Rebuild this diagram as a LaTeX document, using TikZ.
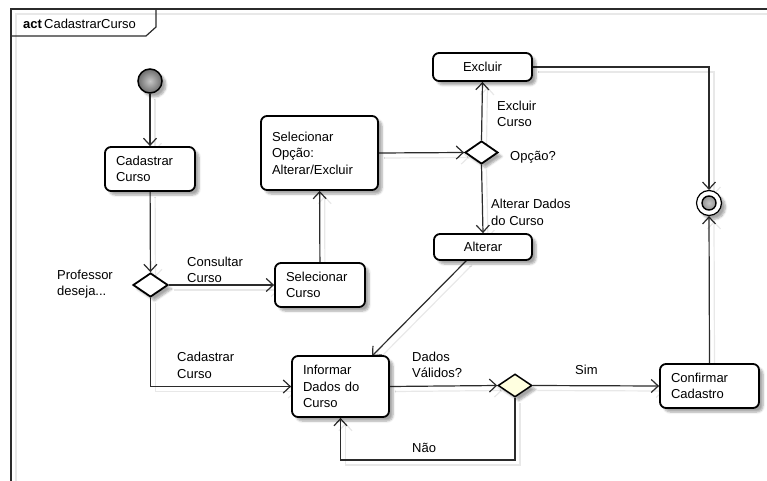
\documentclass[tikz,border=0pt]{standalone}
\usepackage{fontspec}
\setmainfont{Liberation Sans}
\usetikzlibrary{arrows.meta,shapes.geometric,shadows.blur,backgrounds}

\definecolor{decfill}{HTML}{FFFFE0}
\definecolor{linecol}{HTML}{2B2B2B}

\begin{document}
\begin{tikzpicture}[x=1pt,y=-1pt,
  every node/.style={font=\fontsize{13}{16.5}\selectfont},
  softshadow/.style={blur shadow={shadow xshift=4pt,shadow yshift=-4pt,
      shadow blur steps=6,shadow opacity=35}},
  action/.style={rectangle,rounded corners=6pt,draw=black,line width=1.8pt,
      fill=white,align=left,inner xsep=11pt,inner ysep=0pt,softshadow},
  decision/.style={diamond,draw=black,line width=1.8pt,fill=white,
      inner sep=0pt,softshadow},
  lbl/.style={inner sep=0pt,align=left,anchor=west},
  lineshadow/.style={preaction={draw=black!9,line width=1.2pt,
      transform canvas={shift={(5pt,-5pt)}}}},
  flow/.style={draw=linecol,line width=1.2pt,lineshadow,
      -{Straight Barb[length=7pt,width=13pt]}},
]
\useasboundingbox (0,0) rectangle (767,481);

% frame and its name tab
\draw[draw=linecol,line width=1.5pt,lineshadow] (11,490) -- (11,9) -- (775,9);
\draw[draw=linecol,line width=1.2pt] (11,36) -- (146,36) -- (156,27) -- (156,9);
\node[inner sep=0pt,anchor=base west] (title) at (23,29)
  {\textbf{act}\,CadastrarCurso};

% start and end
\node[circle,draw=black,line width=1.5pt,minimum size=24pt,inner sep=0pt,
  inner color=gray!45,outer color=gray!85!black,softshadow] (init) at (150,81) {};
\node[circle,draw=black,line width=1.2pt,minimum size=25pt,inner sep=0pt,
  fill=white,softshadow,
  path picture={\draw[line width=1.4pt,inner color=gray!45,outer color=gray!85!black]
    (path picture bounding box.center) circle (7pt);}] (fin) at (709,203) {};

% actions
\node[action,text width=68pt,minimum height=44pt] (cad) at (150,169) {Cadastrar\\Curso};
\node[action,text width=68pt,minimum height=44pt] (selc) at (320,285) {Selecionar\\Curso};
\node[action,text width=95pt,minimum height=74pt] (selo) at (319.5,153) {Selecionar\\Opção:\\Alterar/Excluir};
\node[action,align=center,minimum width=99pt,minimum height=28pt] (exc) at (482.5,67) {Excluir};
\node[action,align=center,minimum width=98pt,minimum height=26pt] (alt) at (483,247) {Alterar};
\node[action,text width=75pt,minimum height=61pt] (inf) at (340.5,386.5) {Informar\\Dados do\\Curso};
\node[action,text width=77pt,minimum height=44pt] (conf) at (709.5,386) {Confirmar\\Cadastro};

% decisions
\node[decision,minimum width=35pt,minimum height=24pt] (d1) at (150.5,285) {};
\node[decision,minimum width=33pt,minimum height=23pt] (d2) at (481.5,152.5) {};
\node[decision,fill=decfill,line width=1.5pt,minimum width=34pt,minimum height=23pt] (d3) at (515,385.5) {};

% guard and decision texts
\node[lbl] (tprof) at (57,284) {Professor\\deseja...};
\node[lbl] (tcons) at (187,270) {Consultar\\Curso};
\node[lbl] (tcad) at (177,365.5) {Cadastrar\\Curso};
\node[lbl] (texc) at (497,114) {Excluir\\Curso};
\node[lbl] (topc) at (510,157) {Opção?};
\node[lbl] (talt) at (491,212.5) {Alterar Dados\\do Curso};
\node[lbl] (tval) at (412,365) {Dados\\Válidos?};
\node[lbl] (tsim) at (575,370) {Sim};
\node[lbl] (tnao) at (412,448) {Não};

\coordinate (altout) at (467,260);
\coordinate (infin) at (372,356);
\coordinate (naocorner) at (340.5,460);

\begin{scope}[on background layer]
  \draw[flow] (init) -- (cad);
  \draw[flow] (cad) -- (d1);
  \draw[flow] (d1.east) -- (selc.west);
  \draw[flow] (selc) -- (selo);
  \draw[flow] (selo.east) -- (d2.west);
  \draw[flow] (d2.north) -- (exc.south);
  \draw[flow] (d2.south) -- (alt.north);
  \draw[flow] (exc.east) -| (fin.north);
  \draw[flow] (altout) -- (infin);
  \draw[flow] (d1.south) |- (inf.west);
  \draw[flow] (inf.east) -- (d3.west);
  \draw[flow] (d3.east) -- (conf.west);
  \draw[flow] (d3.south) |- (naocorner) -- (inf.south);
  \draw[flow] (conf.north) -- (fin.south);
\end{scope}
\end{tikzpicture}
\end{document}
